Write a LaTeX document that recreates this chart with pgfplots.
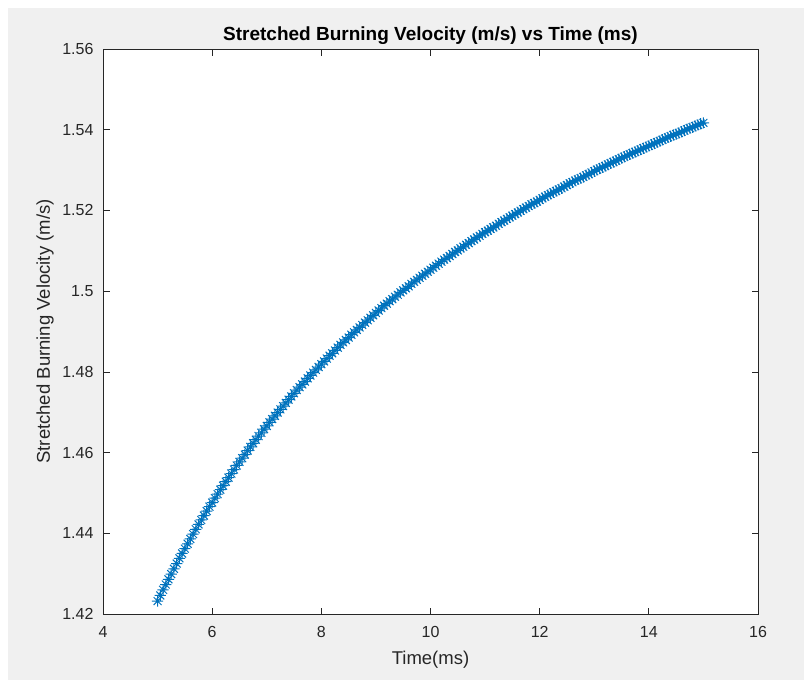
\documentclass[border=0pt]{standalone}
\usepackage{fontspec}
\setmainfont{Liberation Sans}
\usepackage{pgfplots}
\pgfplotsset{compat=1.18}
\usepackage{pgfplotstable}

\definecolor{mblue}{RGB}{0,114,189}
\definecolor{figbg}{RGB}{240,240,240}
\definecolor{axcol}{RGB}{38,38,38}

% matlab style '*' marker: plus and cross together
\pgfdeclareplotmark{mstar}{%
  \pgfpathmoveto{\pgfpoint{-\pgfplotmarksize}{0pt}}%
  \pgfpathlineto{\pgfpoint{\pgfplotmarksize}{0pt}}%
  \pgfpathmoveto{\pgfpoint{0pt}{-\pgfplotmarksize}}%
  \pgfpathlineto{\pgfpoint{0pt}{\pgfplotmarksize}}%
  \pgfpathmoveto{\pgfpoint{-0.707\pgfplotmarksize}{-0.707\pgfplotmarksize}}%
  \pgfpathlineto{\pgfpoint{0.707\pgfplotmarksize}{0.707\pgfplotmarksize}}%
  \pgfpathmoveto{\pgfpoint{-0.707\pgfplotmarksize}{0.707\pgfplotmarksize}}%
  \pgfpathlineto{\pgfpoint{0.707\pgfplotmarksize}{-0.707\pgfplotmarksize}}%
  \pgfusepathqstroke}

\pgfplotstableread{
t      v
5.00   1.4232
5.05   1.4246
5.10   1.4260
5.15   1.4273
5.20   1.4286
5.25   1.4299
5.30   1.4312
5.35   1.4325
5.40   1.4338
5.45   1.4350
5.50   1.4362
5.55   1.4374
5.60   1.4386
5.65   1.4398
5.70   1.4410
5.75   1.4422
5.80   1.4433
5.85   1.4444
5.90   1.4455
5.95   1.4466
6.00   1.4476
6.05   1.4487
6.10   1.4497
6.15   1.4508
6.20   1.4518
6.25   1.4528
6.30   1.4538
6.35   1.4548
6.40   1.4558
6.45   1.4568
6.50   1.4577
6.55   1.4586
6.60   1.4595
6.65   1.4605
6.70   1.4614
6.75   1.4623
6.80   1.4632
6.85   1.4641
6.90   1.4649
6.95   1.4658
7.00   1.4666
7.05   1.4675
7.10   1.4683
7.15   1.4691
7.20   1.4699
7.25   1.4707
7.30   1.4715
7.35   1.4723
7.40   1.4731
7.45   1.4739
7.50   1.4747
7.55   1.4755
7.60   1.4762
7.65   1.4769
7.70   1.4776
7.75   1.4784
7.80   1.4791
7.85   1.4798
7.90   1.4805
7.95   1.4812
8.00   1.4819
8.05   1.4826
8.10   1.4833
8.15   1.4840
8.20   1.4846
8.25   1.4853
8.30   1.4860
8.35   1.4867
8.40   1.4873
8.45   1.4879
8.50   1.4885
8.55   1.4892
8.60   1.4898
8.65   1.4904
8.70   1.4910
8.75   1.4916
8.80   1.4922
8.85   1.4928
8.90   1.4934
8.95   1.4940
9.00   1.4946
9.05   1.4952
9.10   1.4958
9.15   1.4964
9.20   1.4969
9.25   1.4975
9.30   1.4980
9.35   1.4986
9.40   1.4991
9.45   1.4997
9.50   1.5002
9.55   1.5007
9.60   1.5012
9.65   1.5018
9.70   1.5023
9.75   1.5028
9.80   1.5033
9.85   1.5038
9.90   1.5043
9.95   1.5048
10.00  1.5053
10.05  1.5058
10.10  1.5063
10.15  1.5068
10.20  1.5073
10.25  1.5078
10.30  1.5082
10.35  1.5087
10.40  1.5092
10.45  1.5097
10.50  1.5101
10.55  1.5106
10.60  1.5110
10.65  1.5115
10.70  1.5119
10.75  1.5124
10.80  1.5128
10.85  1.5133
10.90  1.5137
10.95  1.5142
11.00  1.5146
11.05  1.5150
11.10  1.5154
11.15  1.5158
11.20  1.5162
11.25  1.5167
11.30  1.5171
11.35  1.5175
11.40  1.5179
11.45  1.5183
11.50  1.5187
11.55  1.5191
11.60  1.5195
11.65  1.5199
11.70  1.5203
11.75  1.5207
11.80  1.5211
11.85  1.5215
11.90  1.5218
11.95  1.5222
12.00  1.5226
12.05  1.5230
12.10  1.5234
12.15  1.5238
12.20  1.5241
12.25  1.5245
12.30  1.5248
12.35  1.5252
12.40  1.5255
12.45  1.5259
12.50  1.5263
12.55  1.5267
12.60  1.5270
12.65  1.5274
12.70  1.5277
12.75  1.5280
12.80  1.5283
12.85  1.5287
12.90  1.5290
12.95  1.5294
13.00  1.5297
13.05  1.5301
13.10  1.5304
13.15  1.5307
13.20  1.5310
13.25  1.5314
13.30  1.5317
13.35  1.5320
13.40  1.5323
13.45  1.5327
13.50  1.5330
13.55  1.5333
13.60  1.5336
13.65  1.5339
13.70  1.5342
13.75  1.5345
13.80  1.5348
13.85  1.5351
13.90  1.5354
13.95  1.5357
14.00  1.5360
14.05  1.5363
14.10  1.5366
14.15  1.5369
14.20  1.5372
14.25  1.5375
14.30  1.5378
14.35  1.5381
14.40  1.5384
14.45  1.5387
14.50  1.5389
14.55  1.5392
14.60  1.5395
14.65  1.5398
14.70  1.5401
14.75  1.5404
14.80  1.5406
14.85  1.5409
14.90  1.5412
14.95  1.5415
15.00  1.5417
}\velo

\begin{document}
\begin{tikzpicture}
% figure window background
\fill[white] (0pt,0pt) rectangle (804pt,-680pt);
\fill[figbg] (8pt,-8pt) rectangle (804pt,-680pt);

\begin{axis}[
    at={(103pt,-614pt)}, anchor=south west,
    scale only axis,
    width=655pt, height=565pt,
    xmin=4, xmax=16, ymin=1.42, ymax=1.56,
    axis background/.style={fill=white},
    axis line style={color=axcol, line width=0.7pt},
    xtick={4,6,8,10,12,14,16},
    xticklabels={4,6,8,10,12,14,16},
    ytick={1.42,1.44,1.46,1.48,1.5,1.52,1.54,1.56},
    yticklabels={1.42,1.44,1.46,1.48,1.5,1.52,1.54,1.56},
    tick align=inside,
    major tick length=6.5pt,
    every tick/.style={color=axcol, line width=0.7pt},
    tick label style={font=\fontsize{16}{18}\selectfont, text=axcol},
    xticklabel style={yshift=-9pt},
    yticklabel style={xshift=-6pt},
    label style={font=\fontsize{18.5}{21}\selectfont, text=axcol},
    title style={font=\fontsize{19}{21}\selectfont\bfseries, text=black,
                 at={(axis description cs:0.5,1.0124)}, anchor=center},
    xlabel style={at={(axis description cs:0.5,-0.0814)}, anchor=center},
    ylabel style={at={(axis description cs:-0.0885,0.5)}, anchor=center},
    title={Stretched Burning Velocity (m/s) vs Time (ms)},
    xlabel={Time(ms)},
    ylabel={Stretched Burning Velocity (m/s)},
]
\addplot[only marks, mark=mstar, mark size=5.6pt, color=mblue,
         mark options={line width=1pt}] table[x=t, y=v] {\velo};
\end{axis}
\end{tikzpicture}
\end{document}
